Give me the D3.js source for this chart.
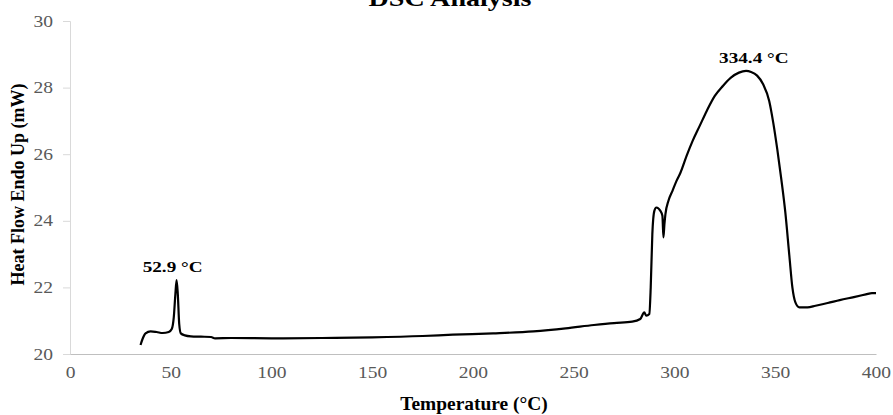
<!DOCTYPE html>
<html>
<head>
<meta charset="utf-8">
<title>DSC Analysis</title>
<script src="https://cdn.jsdelivr.net/npm/d3@7"></script>
<style>
  body { margin: 0; background: #fff; }
  svg text { font-family: "Liberation Serif", "Times New Roman", serif; }
</style>
</head>
<body>
<div id="chart"></div>
<script>
// temperature (°C) and heat flow (mW)
var temps = [35.0, 36.0, 37.5, 40.0, 43.0, 46.0, 49.0, 50.5, 51.5, 52.3, 52.9, 53.5, 54.2, 55.0, 57.0, 60.0,
  65.0, 70.0, 72.0, 80.0, 100.0, 125.0, 150.0, 175.0, 190.0, 210.0, 230.0, 246.0, 260.0, 270.0, 279.0,
  283.0, 285.0, 286.0, 287.5, 288.2, 289.0, 290.0, 291.0, 293.0, 294.0, 294.5, 295.0, 295.5, 297.0, 299.0,
  301.0, 303.0, 306.0, 309.0, 312.5, 316.0, 320.0, 324.0, 328.0, 332.0, 335.5, 338.0,
  341.0, 344.0, 347.0, 349.0, 351.0, 353.0, 355.0, 357.0, 358.5, 360.0, 362.0, 366.0, 370.0, 376.0, 382.0,
  389.0, 395.0, 398.0, 400.0];
var heatFlow = [20.27, 20.45, 20.62, 20.68, 20.66, 20.63, 20.66, 20.75, 21.1, 21.8, 22.22, 21.8, 20.9, 20.62, 20.56, 20.53,
  20.52, 20.51, 20.47, 20.48, 20.47, 20.48, 20.5, 20.54, 20.58, 20.62, 20.68, 20.77, 20.87, 20.93, 20.97,
  21.05, 21.25, 21.15, 21.2, 22.0, 23.6, 24.3, 24.4, 24.3, 24.15, 23.5, 23.9, 24.2, 24.6, 24.9,
  25.2, 25.45, 25.95, 26.4, 26.85, 27.3, 27.75, 28.05, 28.3, 28.45, 28.5, 28.47,
  28.36, 28.1, 27.6, 26.95, 26.15, 25.25, 24.25, 22.95, 22.0, 21.55, 21.4, 21.4, 21.45, 21.53, 21.62,
  21.71, 21.79, 21.83, 21.83];

var xTicks = [0, 50, 100, 150, 200, 250, 300, 350, 400];
var yTicks = [20, 22, 24, 26, 28, 30];
var peakTemps = [52.9, 334.4];
var peakLabels = ["52.9 °C", "334.4 °C"];
var peakHeights = [22.22, 28.5];

var width = 893, height = 415;
var margin = {top: 21, right: 15, bottom: 61, left: 70};

var svg = d3.select("#chart").append("svg")
  .attr("width", width)
  .attr("height", height);

var x = d3.scaleLinear().domain([0, 400]).range([margin.left, 876]);
var y = d3.scaleLinear().domain([20, 30]).range([height - margin.bottom, margin.top]);

// the source picture is a bit wider than tall, so text is stretched sideways
function stretch(sel, sx) {
  sel.each(function () {
    var t = d3.select(this);
    var tx = +t.attr("x") || 0, ty = +t.attr("y") || 0;
    t.attr("x", 0).attr("y", 0)
      .attr("transform", "translate(" + tx + "," + ty + ") scale(" + sx + ",1)");
  });
}

// title, partly cut off at the top
svg.append("text")
  .attr("x", 450).attr("y", 6)
  .attr("text-anchor", "middle")
  .attr("font-weight", "bold")
  .attr("font-size", 24)
  .text("DSC Analysis")
  .call(stretch, 1.17);

// y axis
var yAxis = svg.append("g")
  .attr("transform", "translate(" + margin.left + ",0)")
  .call(d3.axisLeft(y).tickValues(yTicks).tickSize(7).tickPadding(10));
yAxis.select(".domain").attr("stroke", "#d9d9d9");
yAxis.selectAll(".tick line").attr("stroke", "#d9d9d9");
yAxis.selectAll(".tick text")
  .attr("font-family", "Liberation Serif, Times New Roman, serif")
  .attr("font-size", 16).attr("fill", "#595959")
  .call(stretch, 1.22);

// x axis
var xAxis = svg.append("g")
  .attr("transform", "translate(0," + y(20) + ")")
  .call(d3.axisBottom(x).tickValues(xTicks).tickSize(0).tickPadding(13).tickSizeOuter(0));
xAxis.select(".domain").attr("stroke", "#bfbfbf");
xAxis.selectAll(".tick text")
  .attr("font-family", "Liberation Serif, Times New Roman, serif")
  .attr("font-size", 16).attr("fill", "#595959")
  .call(stretch, 1.22);

// axis titles
svg.append("text")
  .attr("x", 474).attr("y", 410)
  .attr("text-anchor", "middle")
  .attr("font-weight", "bold")
  .attr("font-size", 18)
  .text("Temperature (°C)")
  .call(stretch, 1.08);

svg.append("text")
  .attr("transform", "translate(24," + (y(25) - 3) + ") rotate(-90)")
  .attr("text-anchor", "middle")
  .attr("font-weight", "bold")
  .attr("font-size", 18)
  .text("Heat Flow Endo Up (mW)");

// trace
var line = d3.line()
  .x(function (d, i) { return x(temps[i]); })
  .y(function (d) { return y(d); })
  .curve(d3.curveMonotoneX);

svg.append("path")
  .datum(heatFlow)
  .attr("fill", "none")
  .attr("stroke", "#000")
  .attr("stroke-width", 2.2)
  .attr("stroke-linejoin", "round")
  .attr("d", line);

// peak labels
svg.selectAll(".peak")
  .data(peakTemps)
  .enter().append("text")
  .attr("class", "peak")
  .attr("x", function (d) { return x(d) - 4 + (d > 300 ? 14 : 0); })
  .attr("y", function (d, i) { return y(peakHeights[i]) - 8; })
  .attr("text-anchor", "middle")
  .attr("font-weight", "bold")
  .attr("font-size", 15)
  .text(function (d, i) { return peakLabels[i]; })
  .call(stretch, 1.28);
</script>
</body>
</html>
